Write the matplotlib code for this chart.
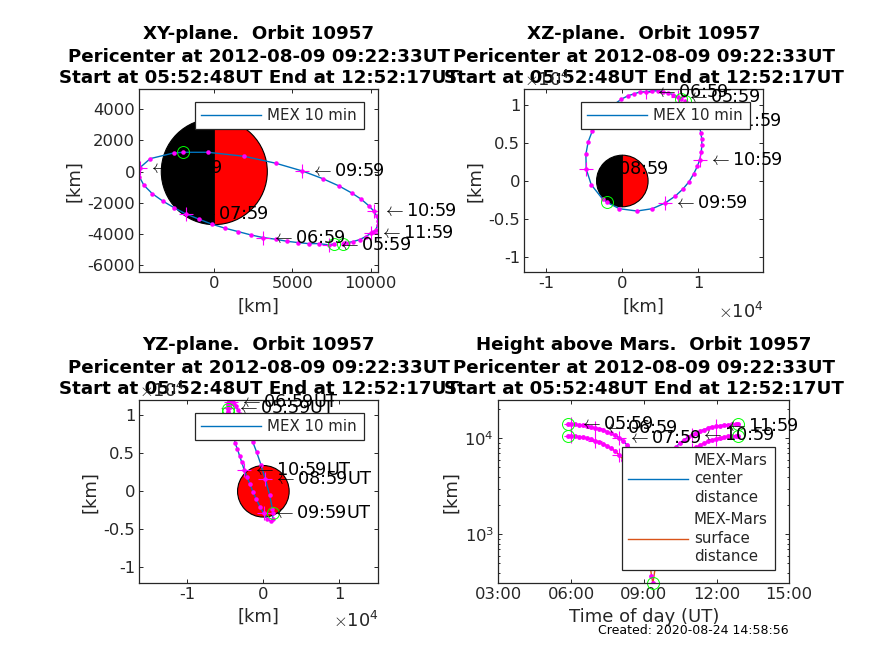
import numpy as np
import matplotlib
matplotlib.use('Agg')
import matplotlib.pyplot as plt
from matplotlib.patches import Wedge, Circle

plt.rcParams['font.family'] = 'DejaVu Sans'
plt.rcParams['mathtext.fontset'] = 'cm'

# 10 min samples of the orbit, plus start, pericenter and end
times = ['05:52:48', '05:59', '06:09', '06:19', '06:29', '06:39', '06:49', '06:59', '07:09', '07:19',
         '07:29', '07:39', '07:49', '07:59', '08:09', '08:19', '08:29', '08:39', '08:49', '08:59',
         '09:09', '09:19', '09:22:33', '09:29', '09:39', '09:49', '09:59', '10:09', '10:19', '10:29',
         '10:39', '10:49', '10:59', '11:09', '11:19', '11:29', '11:39', '11:49', '11:59', '12:09',
         '12:19', '12:29', '12:39', '12:49', '12:52:17']
x_km = [7675, 7334, 6694, 6034, 5373, 4648, 3944, 3134, 2345, 1535,
        704, -128, -959, -1812, -2580, -3305, -3966, -4499, -4797, -4754,
        -4094, -2601, -1983, -405, 1919, 3944, 5628, 6929, 7974, 8784,
        9402, 9871, 10191, 10383, 10468, 10447, 10319, 10170, 10020, 9679,
        9296, 8869, 8528, 8315, 8251]
y_km = [-4605, -4690, -4605, -4605, -4541, -4456, -4328, -4221, -4051, -3838,
        -3624, -3369, -3049, -2708, -2303, -1876, -1407, -874, -320, 256,
        831, 1194, 1237, 1237, 981, 533, 43, -448, -917, -1364,
        -1770, -2175, -2516, -2836, -3134, -3411, -3731, -3838, -3944, -4157,
        -4349, -4477, -4541, -4584, -4605]
z_km = [10790, 11000, 11360, 11535, 11710, 11842, 11842, 11710, 11710, 11447,
        11184, 10746, 10150, 9300, 8500, 7550, 6535, 5132, 3509, 1579,
        -482, -2368, -2807, -3640, -3947, -3640, -2895, -2018, -1053, -88,
        965, 1930, 2807, 3816, 4693, 5570, 6360, 7100, 7850, 8550,
        9200, 9700, 10100, 10400, 10480]
center_dist = [14020, 14030, 13965, 13806, 13660, 13480, 13210, 12834, 12610, 12170,
               11777, 11265, 10747, 10144, 9391, 8520, 7772, 6878, 5950, 5020,
               4207, 3760, 3700, 3860, 4505, 5394, 6332, 7232, 8093, 8894,
               9613, 10286, 10867, 11419, 11891, 12317, 12681, 12981, 13327, 13568,
               13780, 13885, 13975, 14010, 14020]
surface_dist = [10630, 10640, 10575, 10416, 10270, 10090, 9820, 9444, 9220, 8780,
                8387, 7875, 7357, 6754, 6001, 5130, 4382, 3488, 2560, 1630,
                817, 370, 310, 470, 1115, 2004, 2942, 3842, 4703, 5504,
                6223, 6896, 7477, 8029, 8501, 8927, 9291, 9591, 9937, 10178,
                10390, 10495, 10585, 10620, 10630]
mars_radius = 3390

title_top = ['XY-plane.  Orbit 10957', 'XZ-plane.  Orbit 10957',
             'YZ-plane.  Orbit 10957', 'Height above Mars.  Orbit 10957']
title_rest = 'Pericenter at 2012-08-09 09:22:33UT\nStart at 05:52:48UT End at 12:52:17UT'
hour_ticks = [3, 6, 9, 12, 15]
hour_labels = ['03:00', '06:00', '09:00', '12:00', '15:00']

BLUE = (0, 0.447, 0.741)
ORANGE = (0.85, 0.325, 0.098)
DARK = (0.15, 0.15, 0.15)
W, H = 874, 655
FS = 11.8
LABEL_FS = 12.8


def to_hours(s):
    p = [int(v) for v in s.split(':')]
    return p[0] + p[1] / 60 + (p[2] / 3600 if len(p) > 2 else 0)


hours = np.array([to_hours(t) for t in times])
ends = [i for i, t in enumerate(times) if len(t) > 5]
on_hour = [i for i, t in enumerate(times) if t.endswith(':59') and len(t) == 5]


def make_axes(fig, l, r, t, b):
    ax = fig.add_axes([l / W, 1 - b / H, (r - l) / W, (b - t) / H])
    ax.tick_params(which='both', direction='in', top=True, right=True, color=DARK,
                   labelcolor=DARK, labelsize=FS, width=0.7, length=2.6, pad=3)
    ax.tick_params(which='minor', length=1.6)
    for s in ax.spines.values():
        s.set_color(DARK)
        s.set_linewidth(0.9)
    return ax


def track(ax, a, b, label):
    a = np.array(a)
    b = np.array(b)
    ax.plot(a, b, color=BLUE, lw=1.0, label=label, zorder=2)
    ax.plot(a, b, ls='none', marker='.', color='magenta', ms=6.5, mew=0, zorder=2.2)
    ax.plot(a[on_hour], b[on_hour], ls='none', marker='+', color='magenta', ms=9.5, mew=0.8, zorder=2.3)
    ax.plot(a[ends], b[ends], ls='none', marker='o', mfc='none', mec=(0, 1, 0), ms=8.6, mew=0.7, zorder=2.4)


def hour_text(ax, a, b, suffix=''):
    for i in on_hour:
        ax.annotate(r'$\leftarrow$' + times[i] + suffix, (a[i], b[i]), xytext=(5.8, 0),
                    textcoords='offset points', fontsize=LABEL_FS, color='k',
                    ha='left', va='center', zorder=3, annotation_clip=False)


def frame(l, r, t, b, box):
    # legend box position given in figure pixels
    x0 = (box[0] - l) / (r - l)
    w = (box[1] - box[0]) / (r - l)
    y0 = (b - box[3]) / (b - t)
    h = (box[3] - box[2]) / (b - t)
    return (x0, y0, w, h)


def add_legend(ax, l, r, t, b, box, text_spacing=1.2, **kw):
    leg = ax.legend(bbox_to_anchor=frame(l, r, t, b, box), loc='upper left', mode='expand',
                    borderaxespad=0, fancybox=False, framealpha=1, edgecolor=DARK, fontsize=10.8,
                    handlelength=4.0, handletextpad=0.4, borderpad=0.4, **kw)
    leg.get_frame().set_linewidth(0.9)
    leg.set_zorder(10)
    for txt in leg.get_texts():
        txt.set_color(DARK)
        txt.set_linespacing(text_spacing)
    return leg


def finish(ax, title, l, r, t, b, ylab_x, xlab_y, xlabel='[km]'):
    ax.set_title(title_rest, fontsize=13.15, fontweight='bold', pad=4.5, linespacing=1.22)
    # top title line sits a bit higher than the two below it
    fig.text((l + r) / 2 / W, 1 - (t - 55.5) / H, title, fontsize=13.15, fontweight='bold',
             ha='center', va='center')
    ax.set_xlabel(xlabel, fontsize=13, color=DARK)
    ax.set_ylabel('[km]', fontsize=13, color=DARK)
    ax.yaxis.set_label_coords((ylab_x - l) / (r - l), 0.5)
    ax.xaxis.set_label_coords(0.5, (b - xlab_y) / (b - t))
    ax.xaxis.label.set_va('center')
    ax.yaxis.label.set_va('center')


def half_sun(ax):
    ax.add_patch(Wedge((0, 0), mars_radius, 90, 270, fc='k', ec='k', lw=0.8, zorder=1))
    ax.add_patch(Wedge((0, 0), mars_radius, -90, 90, fc='r', ec='k', lw=0.8, zorder=1))


fig = plt.figure(figsize=(W / 100, H / 100), dpi=100)

# XY plane
pos = (139.3, 378.3, 89.3, 272.3)
ax = make_axes(fig, *pos)
half_sun(ax)
track(ax, x_km, y_km, 'MEX 10 min')
hour_text(ax, x_km, y_km)
ax.set_xlim(-4795, 10486)
ax.set_ylim(-6440, 5267)
ax.set_xticks([0, 5000, 10000])
ax.set_yticks([-6000, -4000, -2000, 0, 2000, 4000])
ax.set_yticklabels(['-6000', '-4000', '-2000', '0', '2000', '4000'])
add_legend(ax, *pos, (195.3, 364.3, 102.3, 128.3))
finish(ax, title_top[0], *pos, 74, 307)

# XZ plane
pos = (524.3, 763.3, 89.3, 272.3)
ax = make_axes(fig, *pos)
half_sun(ax)
track(ax, x_km, z_km, 'MEX 10 min')
hour_text(ax, x_km, z_km)
ax.set_xlim(-12900, 18550)
ax.set_ylim(-12000, 12050)
ax.set_xticks([-10000, 0, 10000])
ax.set_xticklabels(['-1', '0', '1'])
ax.set_yticks([-10000, -5000, 0, 5000, 10000])
ax.set_yticklabels(['-1', '-0.5', '0', '0.5', '1'])
add_legend(ax, *pos, (581.3, 750.3, 102.3, 128.3))
finish(ax, title_top[1], *pos, 475, 307)
fig.text(547 / W, 1 - 80 / H, r'$\times\mathdefault{10^{4}}$', fontsize=FS + 1, color=DARK, ha='center', va='center')
fig.text(741 / W, 1 - 312 / H, r'$\times\mathdefault{10^{4}}$', fontsize=FS + 1, color=DARK, ha='center', va='center')

# YZ plane
pos = (139.3, 378.3, 400.3, 583.3)
ax = make_axes(fig, *pos)
ax.add_patch(Circle((0, 0), mars_radius, fc='r', ec='k', lw=0.8, zorder=1))
track(ax, y_km, z_km, 'MEX 10 min')
hour_text(ax, y_km, z_km, 'UT')
ax.set_xlim(-16300, 15100)
ax.set_ylim(-12100, 11970)
ax.set_xticks([-10000, 0, 10000])
ax.set_xticklabels(['-1', '0', '1'])
ax.set_yticks([-10000, -5000, 0, 5000, 10000])
ax.set_yticklabels(['-1', '-0.5', '0', '0.5', '1'])
add_legend(ax, *pos, (195.3, 364.3, 413.3, 439))
finish(ax, title_top[2], *pos, 90, 617)
fig.text(162 / W, 1 - 391 / H, r'$\times\mathdefault{10^{4}}$', fontsize=FS + 1, color=DARK, ha='center', va='center')
fig.text(356 / W, 1 - 621 / H, r'$\times\mathdefault{10^{4}}$', fontsize=FS + 1, color=DARK, ha='center', va='center')

# height above Mars
pos = (498.3, 789.3, 400.3, 583.3)
ax = make_axes(fig, *pos)
ax.set_yscale('log')
ax.plot(hours, center_dist, color=BLUE, lw=1.0, label='MEX-Mars\ncenter\ndistance', zorder=2)
ax.plot(hours, surface_dist, color=ORANGE, lw=1.0, label='MEX-Mars\nsurface\ndistance', zorder=2)
for vals in (center_dist, surface_dist):
    vals = np.array(vals)
    ax.plot(hours, vals, ls='none', marker='.', color='magenta', ms=7, mew=0, zorder=2.2)
    ax.plot(hours[on_hour], vals[on_hour], ls='none', marker='+', color='magenta', ms=9.5, mew=0.8, zorder=2.3)
    ax.plot(hours[ends], vals[ends], ls='none', marker='o', mfc='none', mec=(0, 1, 0), ms=8.6, mew=0.7,
            clip_on=False, zorder=2.4)
hour_text(ax, hours, center_dist)
ax.set_xlim(3, 15)
ax.set_ylim(309, 24900)
ax.set_xticks(hour_ticks)
ax.set_xticklabels(hour_labels)
ax.set_yticks([1000, 10000])
add_legend(ax, *pos, (621.7, 775.3, 446.7, 570), text_spacing=1.29, labelspacing=0.5)
finish(ax, title_top[3], *pos, 451, 617, 'Time of day (UT)')

fig.text(693 / W, 1 - 630 / H, 'Created: 2020-08-24 14:58:56', fontsize=9, color='k', ha='center', va='center')

fig.savefig('out.png', dpi=100)
